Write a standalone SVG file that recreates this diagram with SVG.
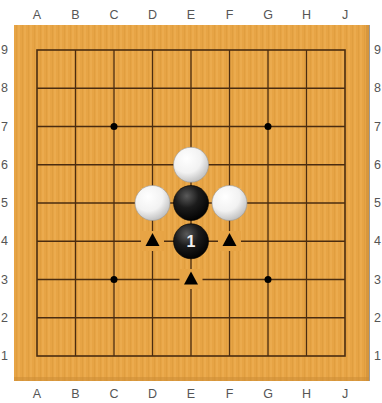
<svg xmlns="http://www.w3.org/2000/svg" width="382" height="403" viewBox="0 0 382 403">
<defs>
<pattern id="grain" width="6" height="10" patternUnits="userSpaceOnUse">
<rect width="6" height="10" fill="#E7A445"/>
<rect x="0" width="2" height="10" fill="#EDAE52" opacity="0.7"/>
<rect x="4" width="1" height="10" fill="#DC9A3A" opacity="0.6"/>
</pattern>
<radialGradient id="wg" cx="0.38" cy="0.32" r="0.75">
<stop offset="0" stop-color="#ffffff"/>
<stop offset="0.55" stop-color="#f2f2f2"/>
<stop offset="1" stop-color="#b8b8b8"/>
</radialGradient>
<radialGradient id="bg" cx="0.38" cy="0.3" r="0.75">
<stop offset="0" stop-color="#5a5a5a"/>
<stop offset="0.45" stop-color="#1c1c1c"/>
<stop offset="1" stop-color="#000000"/>
</radialGradient>
</defs>
<style>
.lbl{font-family:"Liberation Sans",Arial,sans-serif;font-size:12.5px;fill:#555}
.ln{stroke:#4a2c10;stroke-width:1.3}
.w{fill:url(#wg);stroke:#9a9a9a;stroke-width:0.6}
.b{fill:url(#bg);stroke:#000;stroke-width:0.6}
.tri{fill:#000}
.gap{fill:#E7A445}
</style>
<rect width="382" height="403" fill="#fff"/>
<g id="board">
<rect x="14" y="25" width="355" height="356" fill="url(#grain)"/>
<rect x="366" y="25" width="3" height="356" fill="#C98A34" opacity="0.6"/>
<rect x="14" y="377" width="355" height="4" fill="#C98A34" opacity="0.5"/>
<line x1="369.5" y1="25" x2="369.5" y2="381" stroke="#999" stroke-width="1"/>
</g>
<g id="grid">
<rect x="37" y="50" width="308" height="306" fill="none" stroke="#4a2c10" stroke-width="1.6"/>
<line class="ln" x1="75.5" y1="50" x2="75.5" y2="356"/>
<line class="ln" x1="114" y1="50" x2="114" y2="356"/>
<line class="ln" x1="152.5" y1="50" x2="152.5" y2="356"/>
<line class="ln" x1="191" y1="50" x2="191" y2="356"/>
<line class="ln" x1="229.5" y1="50" x2="229.5" y2="356"/>
<line class="ln" x1="268" y1="50" x2="268" y2="356"/>
<line class="ln" x1="306.5" y1="50" x2="306.5" y2="356"/>
<line class="ln" x1="37" y1="88.25" x2="345" y2="88.25"/>
<line class="ln" x1="37" y1="126.5" x2="345" y2="126.5"/>
<line class="ln" x1="37" y1="164.75" x2="345" y2="164.75"/>
<line class="ln" x1="37" y1="203" x2="345" y2="203"/>
<line class="ln" x1="37" y1="241.25" x2="345" y2="241.25"/>
<line class="ln" x1="37" y1="279.5" x2="345" y2="279.5"/>
<line class="ln" x1="37" y1="317.75" x2="345" y2="317.75"/>
<circle cx="114" cy="126.5" r="3.5" fill="#000"/>
<circle cx="268" cy="126.5" r="3.5" fill="#000"/>
<circle cx="114" cy="279.5" r="3.5" fill="#000"/>
<circle cx="268" cy="279.5" r="3.5" fill="#000"/>
</g>
<g id="labels">
<text class="lbl" x="37" y="19" text-anchor="middle">A</text>
<text class="lbl" x="75.5" y="19" text-anchor="middle">B</text>
<text class="lbl" x="114" y="19" text-anchor="middle">C</text>
<text class="lbl" x="152.5" y="19" text-anchor="middle">D</text>
<text class="lbl" x="191" y="19" text-anchor="middle">E</text>
<text class="lbl" x="229.5" y="19" text-anchor="middle">F</text>
<text class="lbl" x="268" y="19" text-anchor="middle">G</text>
<text class="lbl" x="306.5" y="19" text-anchor="middle">H</text>
<text class="lbl" x="345" y="19" text-anchor="middle">J</text>
<text class="lbl" x="37" y="398" text-anchor="middle">A</text>
<text class="lbl" x="75.5" y="398" text-anchor="middle">B</text>
<text class="lbl" x="114" y="398" text-anchor="middle">C</text>
<text class="lbl" x="152.5" y="398" text-anchor="middle">D</text>
<text class="lbl" x="191" y="398" text-anchor="middle">E</text>
<text class="lbl" x="229.5" y="398" text-anchor="middle">F</text>
<text class="lbl" x="268" y="398" text-anchor="middle">G</text>
<text class="lbl" x="306.5" y="398" text-anchor="middle">H</text>
<text class="lbl" x="345" y="398" text-anchor="middle">J</text>
<text class="lbl" x="1" y="54">9</text>
<text class="lbl" x="1" y="92.25">8</text>
<text class="lbl" x="1" y="130.5">7</text>
<text class="lbl" x="1" y="168.75">6</text>
<text class="lbl" x="1" y="207">5</text>
<text class="lbl" x="1" y="245.25">4</text>
<text class="lbl" x="1" y="283.5">3</text>
<text class="lbl" x="1" y="321.75">2</text>
<text class="lbl" x="1" y="360">1</text>
<text class="lbl" x="374" y="54">9</text>
<text class="lbl" x="374" y="92.25">8</text>
<text class="lbl" x="374" y="130.5">7</text>
<text class="lbl" x="374" y="168.75">6</text>
<text class="lbl" x="374" y="207">5</text>
<text class="lbl" x="374" y="245.25">4</text>
<text class="lbl" x="374" y="283.5">3</text>
<text class="lbl" x="374" y="321.75">2</text>
<text class="lbl" x="374" y="360">1</text>
</g>
<g id="stone-E6"><circle class="w" cx="191" cy="164.75" r="17.5"/></g>
<g id="stone-D5"><circle class="w" cx="152.5" cy="203" r="17.5"/></g>
<g id="stone-F5"><circle class="w" cx="229.5" cy="203" r="17.5"/></g>
<g id="stone-E5"><circle class="b" cx="191" cy="203" r="17.5"/></g>
<g id="stone-E4"><circle class="b" cx="191" cy="241.25" r="17.5"/>
<text x="191" y="247" text-anchor="middle" font-family="Liberation Sans,Arial,sans-serif" font-size="16" font-weight="bold" fill="#f0f0f0">1</text></g>
<g id="mark-D4"><rect class="gap" x="141" y="231" width="23" height="20"/><polygon class="tri" points="152.5,233 145.5,246 159.5,246"/></g>
<g id="mark-F4"><rect class="gap" x="218" y="231" width="23" height="20"/><polygon class="tri" points="229.5,233 222.5,246 236.5,246"/></g>
<g id="mark-E3"><rect class="gap" x="179.5" y="269" width="23" height="20"/><polygon class="tri" points="191,271.5 184,284.5 198,284.5"/></g>
</svg>
